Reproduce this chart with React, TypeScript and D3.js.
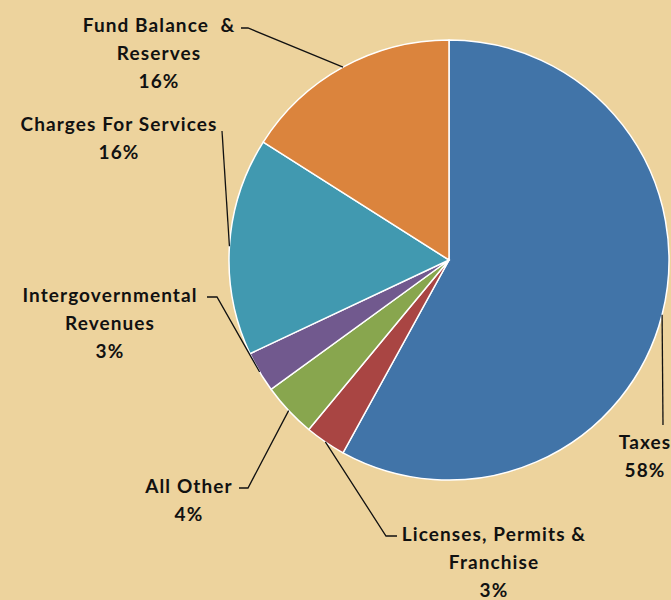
import { useRef, useEffect } from 'react';
import * as d3 from 'd3';

const categories = ['Taxes', 'Licenses, Permits & Franchise', 'All Other', 'Intergovernmental Revenues', 'Charges For Services', 'Fund Balance & Reserves'];
const shares = [58, 3, 4, 3, 16, 16];
const labelLines = [
    ['Taxes'],
    ['Licenses, Permits &', 'Franchise'],
    ['All Other'],
    ['Intergovernmental', 'Revenues'],
    ['Charges For Services'],
    ['Fund Balance  &', 'Reserves'],
];
const colors = ['#4174a8', '#a94543', '#88a64e', '#71598e', '#4199b0', '#db843d'];

// label layout: text centre x, first baseline y, and leader elbow
const labelLayout = [
    { x: 645, y: 449, elbow: [[663, 425]] },
    { x: 494, y: 541, elbow: [[386, 536], [397, 536]] },
    { x: 189, y: 493, elbow: [[248, 488], [239, 488]] },
    { x: 110, y: 302, elbow: [[217, 297], [207, 297]] },
    { x: 119, y: 131, elbow: [[222, 131]] },
    { x: 159, y: 32, elbow: [[248, 28], [241, 28]] },
];

function App() {
    const ref = useRef(null);

    useEffect(() => {
        const W = 671, H = 600, cx = 449, cy = 260, r = 220;
        const svg = d3.select(ref.current);
        svg.selectAll('*').remove();
        svg.attr('width', W).attr('height', H);

        svg.append('rect').attr('width', W).attr('height', H).attr('fill', '#edd39d');

        const data = categories.map((c, i) => ({ name: c, value: shares[i], i }));
        const pie = d3.pie<any>().value(d => d.value).sort(null);
        const arc = d3.arc<any>().innerRadius(0).outerRadius(r);
        const edge = d3.arc<any>().innerRadius(r).outerRadius(r);
        const arcs = pie(data);

        const g = svg.append('g').attr('transform', `translate(${cx},${cy})`);
        g.selectAll('path')
            .data(arcs)
            .enter()
            .append('path')
            .attr('d', arc)
            .attr('fill', d => colors[d.data.i])
            .attr('stroke', 'white')
            .style('stroke-width', '1.5px');

        // leader lines
        arcs.forEach((a, i) => {
            const [ex, ey] = edge.centroid(a);
            const pts = [[cx + ex, cy + ey], ...labelLayout[i].elbow];
            svg.append('path')
                .attr('d', d3.line()(pts as [number, number][]))
                .attr('fill', 'none')
                .attr('stroke', '#111')
                .attr('stroke-width', 1.3);
        });

        // labels
        arcs.forEach((a, i) => {
            const L = labelLayout[i];
            const lines = [...labelLines[i], `${shares[i]}%`];
            const t = svg.append('text')
                .attr('text-anchor', 'middle')
                .style('font-family', 'Lato, "Open Sans", sans-serif')
                .style('font-weight', 'bold')
                .style('font-size', '19px')
                .style('letter-spacing', '1.1px')
                .style('fill', '#111')
                .style('white-space', 'pre');
            lines.forEach((ln, k) => {
                t.append('tspan').attr('x', L.x).attr('y', L.y + k * 28).text(ln);
            });
        });
    }, []);

    return (
        <div style={{ position: 'fixed', left: 0, top: 0, width: 671, height: 600, background: '#edd39d' }}>
            <svg ref={ref} style={{ display: 'block' }} />
        </div>
    );
}

export default App;
